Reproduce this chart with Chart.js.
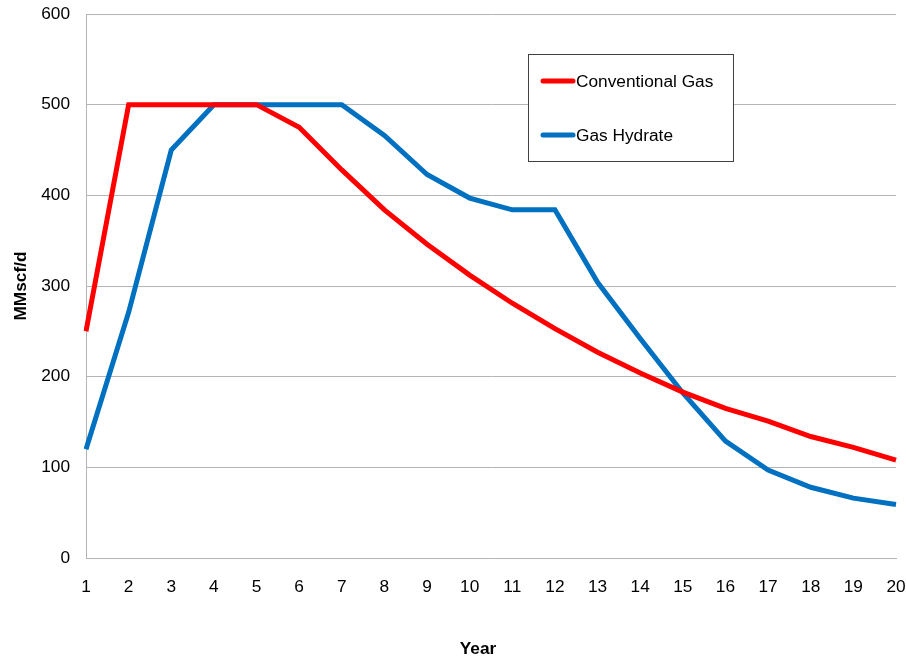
<!DOCTYPE html>
<html>
<head>
<meta charset="utf-8">
<script src="https://cdn.jsdelivr.net/npm/chart.js@4.4.1/dist/chart.umd.min.js"></script>
<style>
  html, body { margin: 0; padding: 0; background: #fff; }
  #wrap { width: 906px; height: 661px; }
</style>
</head>
<body>
<div id="wrap"><canvas id="chart"></canvas></div>
<script>
// Production profile (MMscf/d) by year
const years = ['1','2','3','4','5','6','7','8','9','10','11','12','13','14','15','16','17','18','19','20'];
const conventionalGas = [250, 500, 500, 500, 500, 475, 428, 384, 346, 312, 281, 253, 227, 204, 183, 165, 151, 134, 122, 108];
const gasHydrate = [120, 271, 450, 500, 500, 500, 500, 466, 423, 397, 384, 384, 304, 242, 182, 129, 97, 78, 66, 59];
const seriesNames = ['Conventional Gas', 'Gas Hydrate'];
const seriesColors = ['#ff0000', '#0070c0'];
const xTitle = 'Year';
const yTitle = 'MMscf/d';

const FONT = 'Arial, "Liberation Sans", sans-serif';
const FS = 17.3;
const GRID = '#b4b4b4';

// boxed legend in the top right of the plot + the x title (sits a bit left of centre in the original)
const boxLegend = {
    id: 'boxLegend',
    afterDraw(chart) {
        const ctx = chart.ctx;
        const x = 528.5, y = 54.5, w = 205, h = 107;
        ctx.save();
        ctx.fillStyle = '#fff';
        ctx.fillRect(x, y, w, h);
        ctx.strokeStyle = '#404040';
        ctx.lineWidth = 1;
        ctx.strokeRect(x, y, w, h);
        ctx.font = FS + 'px ' + FONT;
        ctx.textBaseline = 'middle';
        chart.data.datasets.forEach((ds, i) => {
            const ly = 81 + i * 54;
            ctx.strokeStyle = ds.borderColor;
            ctx.lineWidth = 5;
            ctx.lineCap = 'round';
            ctx.beginPath();
            ctx.moveTo(543, ly);
            ctx.lineTo(573, ly);
            ctx.stroke();
            ctx.fillStyle = '#000';
            ctx.fillText(ds.label, 576, ly + 1);
        });

        ctx.font = 'bold ' + FS + 'px ' + FONT;
        ctx.textAlign = 'center';
        ctx.fillText(xTitle, 478, 649);
        ctx.restore();
    }
};

new Chart(document.getElementById('chart').getContext('2d'), {
    type: 'line',
    data: {
        labels: years,
        datasets: [
            {
                label: seriesNames[0],
                data: conventionalGas,
                borderColor: seriesColors[0],
                backgroundColor: seriesColors[0],
                borderWidth: 5,
                pointRadius: 0,
                tension: 0,
            },
            {
                label: seriesNames[1],
                data: gasHydrate,
                borderColor: seriesColors[1],
                backgroundColor: seriesColors[1],
                borderWidth: 5,
                pointRadius: 0,
                tension: 0,
            },
        ],
    },
    options: {
        responsive: true,
        maintainAspectRatio: false,
        animation: false,
        layout: { padding: { left: 0, right: 10, top: 14, bottom: 0 } },
        plugins: {
            legend: { display: false },
            tooltip: { enabled: false },
        },
        scales: {
            x: {
                type: 'category',
                offset: false,
                grid: { display: false },
                border: { display: true, color: GRID, width: 1 },
                ticks: { color: '#000', font: { family: FONT, size: FS }, padding: 11, maxRotation: 0, autoSkip: false },
                afterFit(scale) {
                    scale.height = 103;
                    scale.paddingLeft = 0;
                    scale.paddingRight = 0;
                },
            },
            y: {
                min: 0,
                max: 600,
                ticks: { stepSize: 100, color: '#000', font: { family: FONT, size: FS }, padding: 16 },
                grid: { color: GRID, lineWidth: 1, drawTicks: false },
                border: { display: true, color: GRID, width: 1 },
                title: { display: true, text: yTitle, color: '#000', font: { family: FONT, size: FS, weight: 'bold' }, padding: { top: 11, bottom: 0 } },
                afterFit(scale) {
                    scale.width = 86;
                    scale.paddingTop = 0;
                    scale.paddingBottom = 0;
                },
            },
        },
    },
    plugins: [boxLegend],
});
</script>
</body>
</html>
